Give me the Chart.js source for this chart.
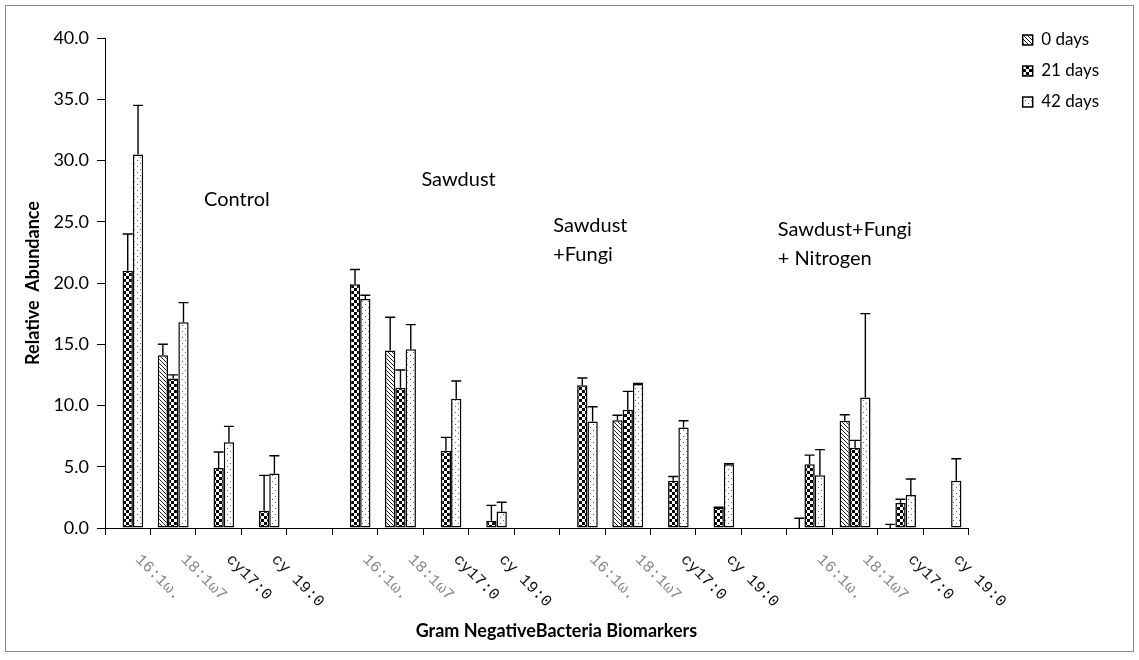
<!DOCTYPE html>
<html>
<head>
<meta charset="utf-8">
<script src="https://cdn.jsdelivr.net/npm/chart.js@4.4.0/dist/chart.umd.min.js"></script>
<style>
  html, body { margin: 0; padding: 0; background: #fff; }
  #wrap { width: 1139px; height: 660px; }
</style>
</head>
<body>
<div id="wrap"><canvas id="gramChart"></canvas></div>
<script>
// biomarkers, 4 treatment groups, an empty slot between groups
const categories = [
  '16:1ω.', '18:1ω7', 'cy17:0', 'cy 19:0', '',
  '16:1ω.', '18:1ω7', 'cy17:0', 'cy 19:0', '',
  '16:1ω.', '18:1ω7', 'cy17:0', 'cy 19:0', '',
  '16:1ω.', '18:1ω7', 'cy17:0', 'cy 19:0'
];
const groupNames = [['Control'], ['Sawdust'], ['Sawdust', '+Fungi'], ['Sawdust+Fungi', '+ Nitrogen']];
const seriesNames = ['0 days', '21 days', '42 days'];

const day0     = [0, 14.1, 0, 0, null, 0, 14.5, 0, 0, null, 0, 8.8, 0, 0, null, 0, 8.75, 0, 0];
const day0Err  = [0, 0.9, 0, 0, null, 0, 2.7, 0, 0, null, 0, 0.4, 0, 0, null, 0.8, 0.5, 0.3, 0];
const day21    = [21.0, 12.2, 4.9, 1.4, null, 19.9, 11.45, 6.3, 0.6, null, 11.65, 9.65, 3.85, 1.65, null, 5.2, 6.55, 2.05, 0];
const day21Err = [3.0, 0.3, 1.3, 2.9, null, 1.2, 1.45, 1.1, 1.25, null, 0.6, 1.5, 0.35, 0.05, null, 0.75, 0.6, 0.3, 0];
const day42    = [30.5, 16.8, 7.0, 4.45, null, 18.7, 14.6, 10.55, 1.35, null, 8.7, 11.75, 8.2, 5.2, null, 4.3, 10.65, 2.7, 3.85];
const day42Err = [4.0, 1.6, 1.3, 1.45, null, 0.3, 2.0, 1.45, 0.75, null, 1.2, 0.05, 0.55, 0.05, null, 2.1, 6.85, 1.3, 1.8];

const yTicks = [0, 5, 10, 15, 20, 25, 30, 35, 40];

// where the group names sit: [category position, y value of first baseline]
const groupSpots = [[1.68, 26.3], [6.46, 27.9], [9.36, 24.15], [14.3, 23.8]];

function makePattern(size, paint) {
  const c = document.createElement('canvas');
  c.width = c.height = size;
  const g = c.getContext('2d');
  g.fillStyle = '#fff';
  g.fillRect(0, 0, size, size);
  paint(g);
  return g.createPattern(c, 'repeat');
}

const hatch = makePattern(4, g => {
  g.fillStyle = '#222';
  for (let i = 0; i < 4; i++) g.fillRect(i, i, 1, 1);
});
const checker = makePattern(6, g => {
  g.fillStyle = '#000';
  g.fillRect(0, 0, 3, 3);
  g.fillRect(3, 3, 3, 3);
});
const dots = makePattern(6, g => {
  g.fillStyle = '#666';
  g.fillRect(2, 1, 1, 1);
  g.fillRect(5, 4, 1, 1);
});

const errSets = [day0Err, day21Err, day42Err];

const frame = {
  id: 'frame',
  beforeDraw(chart) {
    const ctx = chart.ctx;
    ctx.save();
    ctx.fillStyle = '#fff';
    ctx.fillRect(0, 0, chart.width, chart.height);
    ctx.strokeStyle = '#8c8c8c';
    ctx.lineWidth = 1;
    ctx.strokeRect(5.5, 5.5, chart.width - 11, chart.height - 14);
    ctx.restore();
  }
};

const errorBars = {
  id: 'errorBars',
  afterDatasetsDraw(chart) {
    const ctx = chart.ctx, y = chart.scales.y;
    ctx.save();
    ctx.strokeStyle = '#000';
    ctx.lineWidth = 1.4;
    chart.data.datasets.forEach((ds, i) => {
      const meta = chart.getDatasetMeta(i);
      meta.data.forEach((bar, j) => {
        const v = ds.data[j], e = errSets[i][j];
        if (v == null || !e) return;
        const top = y.getPixelForValue(v + e);
        ctx.beginPath();
        ctx.moveTo(bar.x, bar.y);
        ctx.lineTo(bar.x, top);
        ctx.moveTo(bar.x - 5, top);
        ctx.lineTo(bar.x + 5, top);
        ctx.stroke();
      });
    });
    ctx.restore();
  }
};

const textBits = {
  id: 'textBits',
  afterDraw(chart) {
    const {ctx, chartArea} = chart;
    const x = chart.scales.x, y = chart.scales.y;
    ctx.save();
    // slanted category labels
    categories.forEach((lab, i) => {
      if (!lab) return;
      ctx.save();
      ctx.translate(x.getPixelForValue(i) + 10, chartArea.bottom + 29);
      ctx.rotate(Math.PI / 4);
      ctx.font = '16px "Liberation Mono"';
      ctx.fillStyle = lab.startsWith('cy') ? '#111' : '#8a8a8a';
      ctx.textAlign = 'left';
      ctx.textBaseline = 'middle';
      ctx.fillText(lab, 0, 0);
      ctx.restore();
    });
    // group names
    ctx.font = '20px Lato';
    ctx.fillStyle = '#000';
    ctx.textAlign = 'left';
    ctx.textBaseline = 'alphabetic';
    groupNames.forEach((lines, g) => {
      const [cx, cy] = groupSpots[g];
      lines.forEach((t, k) => {
        ctx.fillText(t, x.getPixelForValue(cx), y.getPixelForValue(cy) + k * 29);
      });
    });
    // x axis title
    ctx.font = 'bold 18px Lato';
    ctx.textAlign = 'center';
    ctx.textBaseline = 'middle';
    ctx.fillText('Gram NegativeBacteria Biomarkers', x.getPixelForValue(9.43), chartArea.bottom + 103);
    ctx.restore();
  }
};

new Chart(document.getElementById('gramChart'), {
  type: 'bar',
  data: {
    labels: categories,
    datasets: [
      { label: seriesNames[0], data: day0, backgroundColor: hatch, borderColor: '#000', borderWidth: 1.5, xAxisID: 'x', yAxisID: 'y' },
      { label: seriesNames[1], data: day21, backgroundColor: checker, borderColor: '#000', borderWidth: 1.5, xAxisID: 'x', yAxisID: 'y' },
      { label: seriesNames[2], data: day42, backgroundColor: dots, borderColor: '#000', borderWidth: 1.5, xAxisID: 'x', yAxisID: 'y' }
    ]
  },
  options: {
    responsive: true,
    maintainAspectRatio: false,
    animation: false,
    layout: { padding: { left: 12, top: 17.5, right: 30, bottom: 0 } },
    datasets: { bar: { categoryPercentage: 0.68, barPercentage: 1.0, borderSkipped: false } },
    plugins: {
      legend: {
        position: 'right',
        align: 'start',
        labels: { boxWidth: 10, boxHeight: 10, padding: 14, color: '#000', font: { family: 'Lato', size: 17 } }
      },
      tooltip: { enabled: false }
    },
    scales: {
      x: {
        grid: { display: true, drawOnChartArea: false, drawTicks: true, tickLength: 7, offset: true, color: '#000' },
        border: { color: '#000', width: 1 },
        ticks: { display: false },
        afterFit: s => { s.height = 132; }
      },
      xTop: {
        type: 'category', position: 'top', labels: categories,
        grid: { display: false }, border: { display: false }, ticks: { display: false },
        afterFit: s => { s.height = 20.5; }
      },
      y: {
        min: 0, max: 40,
        afterBuildTicks: s => { s.ticks = yTicks.map(v => ({ value: v })); },
        ticks: { callback: v => v.toFixed(1), color: '#000', font: { family: 'Lato', size: 18 }, padding: 8 },
        grid: { drawOnChartArea: false, drawTicks: true, tickLength: 8, color: '#000' },
        border: { color: '#000' },
        title: { display: true, text: 'Relative  Abundance', color: '#000', font: { family: 'Lato', size: 18, weight: 'bold' }, padding: { top: 10, bottom: 0 } },
        afterFit: s => { s.width = 93; }
      },
      yRight: {
        type: 'linear', position: 'right',
        grid: { display: false }, border: { display: false }, ticks: { display: false },
        afterFit: s => { s.width = 40; }
      }
    }
  },
  plugins: [frame, errorBars, textBits]
});
</script>
</body>
</html>
